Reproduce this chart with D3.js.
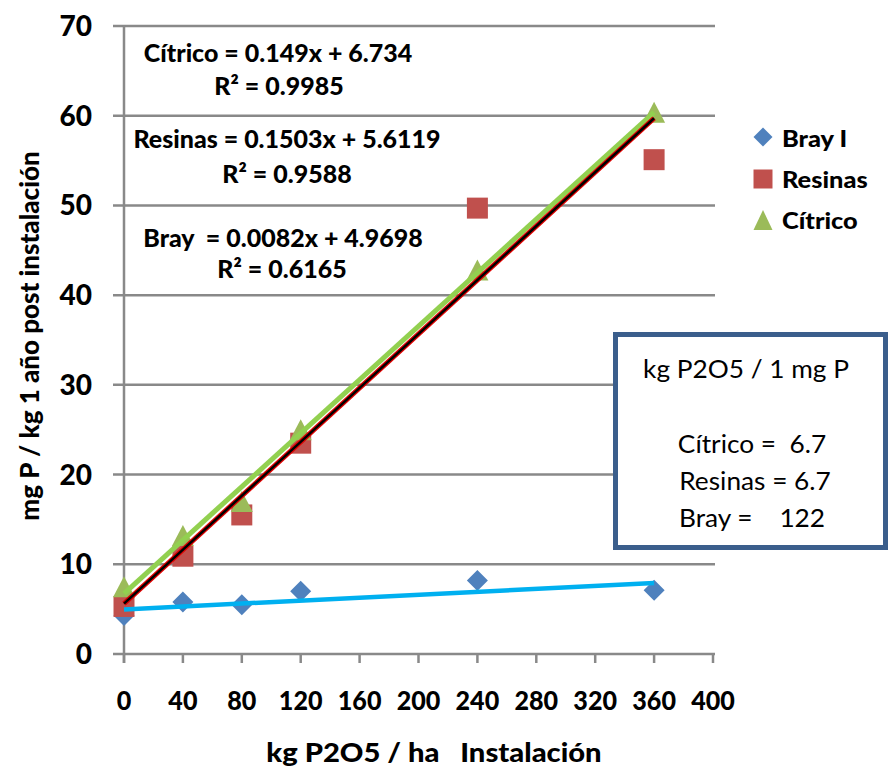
<!DOCTYPE html>
<html>
<head>
<meta charset="utf-8">
<script src="https://cdn.jsdelivr.net/npm/d3@7"></script>
<style>
  html, body { margin: 0; padding: 0; background: #fff; }
  svg { display: block; font-family: Lato, "Open Sans", sans-serif; }
</style>
</head>
<body>
<svg id="chart" width="889" height="769"></svg>
<script>
// P2O5 dose applied at installation (kg/ha)
const doses = [0, 40, 80, 120, 240, 360];
// Extractable P one year later (mg P / kg) for each method
const brayI   = [4.3, 5.8, 5.5, 7.0, 8.2, 7.1];
const resinas = [5.3, 10.9, 15.5, 23.5, 49.7, 55.1];
const citrico = [7.5, 13.2, 17.0, 25.0, 42.8, 60.4];

// Linear fits: [slope, intercept, R²]
const fitCitrico = [0.149, 6.734, 0.9985];
const fitResinas = [0.1503, 5.6119, 0.9588];
const fitBray    = [0.0082, 4.9698, 0.6165];

// kg P2O5 needed to raise 1 mg P / kg
const ratioNames = ["Cítrico", "Resinas", "Bray"];
const ratioValues = ["6.7", "6.7", "122"];

const xTicks = [0, 40, 80, 120, 160, 200, 240, 280, 320, 360, 400];
const yTicks = [0, 10, 20, 30, 40, 50, 60, 70];

const svg = d3.select("#chart");
const x = d3.scaleLinear().domain([0, 400]).range([124, 713]);
const y = d3.scaleLinear().domain([0, 70]).range([654, 26]);

const gridColor = "#898989";
const heavy = 900;

// places a text with an optional horizontal stretch
function stretched(sel, sx) {
  return sel.attr("transform", d => `translate(${d.px},${d.py}) scale(${sx},1)`);
}

// horizontal gridlines (also act as left ticks)
svg.append("g").selectAll("line").data(yTicks).join("line")
  .attr("x1", 113).attr("x2", 715)
  .attr("y1", d => y(d)).attr("y2", d => y(d))
  .attr("stroke", gridColor).attr("stroke-width", 2.5);

// y axis line
svg.append("line").attr("x1", x(0)).attr("x2", x(0))
  .attr("y1", y(70) - 1).attr("y2", y(0) + 9)
  .attr("stroke", gridColor).attr("stroke-width", 2.5);

// x axis ticks
svg.append("g").selectAll("line").data(xTicks).join("line")
  .attr("x1", d => x(d)).attr("x2", d => x(d))
  .attr("y1", y(0)).attr("y2", y(0) + 9)
  .attr("stroke", gridColor).attr("stroke-width", 2.5);

// tick labels
svg.append("g").selectAll("text").data(yTicks).join("text")
  .attr("x", 92).attr("y", d => y(d) + 10)
  .attr("text-anchor", "end").attr("font-size", 28).attr("font-weight", heavy)
  .attr("fill", "#000").text(d => d);

stretched(
  svg.append("g").selectAll("text")
    .data(xTicks.map(v => ({ v, px: x(v), py: 710 }))).join("text"), 0.93)
  .attr("text-anchor", "middle").attr("font-size", 27).attr("font-weight", heavy)
  .attr("fill", "#000").text(d => d.v);

// axis titles
stretched(svg.append("g").selectAll("text")
  .data([{ px: 434, py: 762 }]).join("text"), 1.08)
  .attr("text-anchor", "middle").attr("font-size", 27).attr("font-weight", heavy)
  .attr("xml:space", "preserve")
  .text("kg P2O5 / ha   Instalación");

svg.append("text")
  .attr("transform", "translate(39,336) rotate(-90)")
  .attr("text-anchor", "middle").attr("font-size", 26).attr("font-weight", heavy)
  .text("mg P / kg 1 año post instalación");

// marker shapes, sized by their bounding box
const diamondPath = w => `M0,${-w / 2}L${w / 2},0L0,${w / 2}L${-w / 2},0Z`;
const squarePath = w => `M${-w / 2},${-w / 2}h${w}v${w}h${-w}Z`;
const trianglePath = (w, h) => `M0,${-h / 2}L${w / 2},${h / 2}L${-w / 2},${h / 2}Z`;

const cBray = "#4F81BD", cRes = "#C0504D", cCit = "#9BBB59";

svg.append("g").selectAll("path").data(doses).join("path")
  .attr("d", diamondPath(21)).attr("fill", cBray)
  .attr("transform", (d, i) => `translate(${x(d)},${y(brayI[i])})`);
svg.append("g").selectAll("path").data(doses).join("path")
  .attr("d", squarePath(21)).attr("fill", cRes)
  .attr("transform", (d, i) => `translate(${x(d)},${y(resinas[i])})`);
svg.append("g").selectAll("path").data(doses).join("path")
  .attr("d", trianglePath(22, 21)).attr("fill", cCit)
  .attr("transform", (d, i) => `translate(${x(d)},${y(citrico[i])})`);

// trend lines over the dose range
const xEnd = d3.max(doses);
function trend(fit, color, width) {
  svg.append("line")
    .attr("x1", x(0)).attr("y1", y(fit[1]))
    .attr("x2", x(xEnd)).attr("y2", y(fit[0] * xEnd + fit[1]))
    .attr("stroke", color).attr("stroke-width", width);
}
trend(fitBray, "#00B0F0", 4.5);
trend(fitCitrico, "#92D050", 5);
trend(fitResinas, "#E00000", 5);
trend(fitResinas, "#000000", 2.5);

// equation labels
const eq = (name, f) => [`${name} = ${f[0]}x + ${f[1]}`, `R² = ${f[2]}`];
const eqLines = [
  { t: eq("Cítrico", fitCitrico)[0], px: 278, py: 62 },
  { t: eq("Cítrico", fitCitrico)[1], px: 279, py: 95 },
  { t: eq("Resinas", fitResinas)[0], px: 287, py: 148 },
  { t: eq("Resinas", fitResinas)[1], px: 287, py: 183 },
  { t: eq("Bray ", fitBray)[0], px: 283, py: 247 },
  { t: eq("Bray ", fitBray)[1], px: 282, py: 278 }
];
stretched(svg.append("g").selectAll("text").data(eqLines).join("text"), 1.02)
  .attr("text-anchor", "middle").attr("font-size", 24.5).attr("font-weight", heavy)
  .attr("xml:space", "preserve").text(d => d.t);

// legend
const legend = [
  { name: "Bray I", d: diamondPath(19), color: cBray, my: 137, py: 147 },
  { name: "Resinas", d: squarePath(19), color: cRes, my: 179, py: 188 },
  { name: "Cítrico", d: trianglePath(19, 20), color: cCit, my: 220, py: 229 }
];
const lg = svg.append("g").selectAll("g").data(legend).join("g");
lg.append("path")
  .attr("d", d => d.d).attr("fill", d => d.color)
  .attr("transform", d => `translate(763,${d.my})`);
lg.append("text")
  .attr("transform", d => `translate(782,${d.py}) scale(1.08,1)`)
  .attr("font-size", 23.5).attr("font-weight", heavy).text(d => d.name);

// info box
svg.append("rect").attr("x", 615.5).attr("y", 334.5).attr("width", 270).attr("height", 213)
  .attr("fill", "#fff").attr("stroke", "#3B5E8C").attr("stroke-width", 5);
const boxLines = [
  { t: "kg P2O5 / 1 mg P", px: 746, py: 378 },
  { t: `${ratioNames[0]} =  ${ratioValues[0]}`, px: 752, py: 453 },
  { t: `${ratioNames[1]} = ${ratioValues[1]}`, px: 755, py: 490 },
  { t: `${ratioNames[2]} =    ${ratioValues[2]}`, px: 752, py: 527 }
];
stretched(svg.append("g").selectAll("text").data(boxLines).join("text"), 1.05)
  .attr("text-anchor", "middle").attr("font-size", 25)
  .attr("xml:space", "preserve").text(d => d.t);
</script>
</body>
</html>
